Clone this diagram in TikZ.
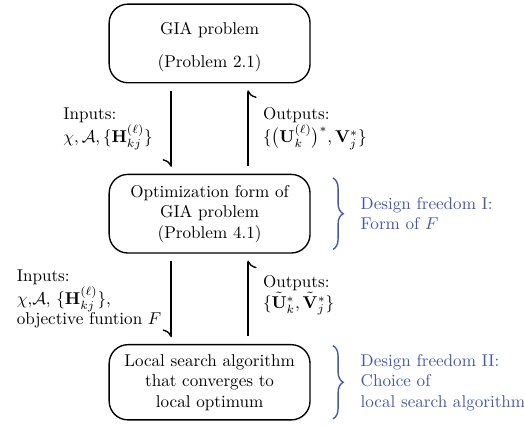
\documentclass[tikz,border=0pt]{standalone}
\usepackage{amsmath,amssymb}
\usetikzlibrary{
    positioning,                % relative placement of the boxes
    arrows.meta,                % harpoon tips
    decorations.pathreplacing   % braces
}
\definecolor{freedom blue}{RGB}{68,88,170}
\newcommand{\armoff}{22.5pt}
\tikzset{
    problem box/.style={draw, thick, rounded corners=11pt,
        minimum width=117.5pt, minimum height=46pt, align=center},
    flow arrow/.style={
        thick,
        -{Computer Modern Rightarrow[harpoon, swap, length=4.5pt, width=10pt]},
        shorten <=4.5pt, shorten >=4pt
    },
    io label/.style={midway, align=left},
    freedom brace/.style={draw=freedom blue, thick, decorate,
        decoration={brace, amplitude=6pt}},
    freedom text/.style={midway, anchor=west, xshift=12.5pt,
        text=freedom blue, align=left}
}

\begin{document}
\begin{tikzpicture}[node distance=52.8pt]
        \useasboundingbox (0,0) rectangle (306.5pt,-249.2pt);

        \node[problem box] (gia) at (122.6pt,-25.4pt) {\rule{0pt}{11.5pt}GIA problem\\[7pt](Problem 2.1)};
        \node[problem box, below=of gia] (opt) {Optimization form of\\GIA problem\\(Problem 4.1)};
        \node[problem box, minimum height=44pt, below=of opt] (local) {Local search algorithm\\that converges to\\local optimum};

        \draw[flow arrow] ([xshift=-\armoff]gia.south) -- ([xshift=-\armoff]opt.north)
            node[io label, left=7pt] (in1) {Inputs:\\$\chi, \mathcal{A}, \{\mathbf{H}_{kj}^{(\ell)}\}$};
        \draw[flow arrow] ([xshift=\armoff]opt.north) -- ([xshift=\armoff]gia.south)
            node[io label, right=5pt] (out1) {Outputs:\\$\{\big(\mathbf{U}_k^{(\ell)}\big)^*, \mathbf{V}_j^*\}$};

        \draw[flow arrow] ([xshift=-\armoff]opt.south) -- ([xshift=-\armoff]local.north)
            node[io label, left=2pt] (in2) {Inputs:\\$\chi$,$\mathcal{A}$, $\{\mathbf{H}_{kj}^{(\ell)}\}$,\\objective funtion $F$};
        \draw[flow arrow] ([xshift=\armoff]local.north) -- ([xshift=\armoff]opt.south)
            node[io label, right=5pt, yshift=2pt] (out2) {Outputs:\\$\{\tilde{\mathbf{U}}_k^*, \tilde{\mathbf{V}}_j^*\}$};

        \draw[freedom brace] ([xshift=13pt, yshift=-2.5pt]opt.north east) -- ([xshift=13pt, yshift=2.5pt]opt.south east)
            node[freedom text] (free1) {Design freedom I:\\Form of $F$};
        \draw[freedom brace] ([xshift=13pt, yshift=-1pt]local.north east) -- ([xshift=13pt, yshift=1pt]local.south east)
            node[freedom text] (free2) {Design freedom II:\\Choice of\\local search algorithm};
\end{tikzpicture}
\end{document}
